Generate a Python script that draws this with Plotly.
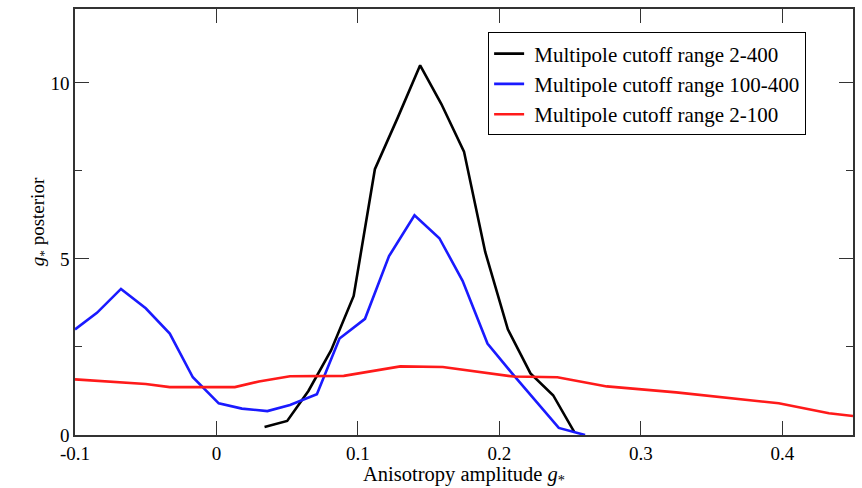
import plotly.graph_objects as go

# Black: Multipole cutoff range 2-400
x_black = [0.034, 0.050, 0.065, 0.081, 0.097, 0.112, 0.128, 0.144, 0.159, 0.175, 0.190, 0.206, 0.222, 0.238, 0.253]
y_black = [0.23, 0.40, 1.25, 2.40, 3.95, 7.55, 9.00, 10.50, 9.40, 8.05, 5.20, 3.00, 1.75, 1.13, 0.08]

# Blue: Multipole cutoff range 100-400
x_blue = [-0.100, -0.0845, -0.0675, -0.050, -0.033, -0.0167, 0.0016, 0.018, 0.036, 0.052, 0.071, 0.087,
          0.105, 0.122, 0.140, 0.1576, 0.174, 0.1916, 0.209, 0.2268, 0.242, 0.2606]
y_blue = [3.00, 3.47, 4.15, 3.60, 2.88, 1.64, 0.90, 0.75, 0.68, 0.85, 1.16, 2.74,
          3.30, 5.08, 6.24, 5.59, 4.38, 2.60, 1.75, 0.90, 0.20, 0.00]

# Red: Multipole cutoff range 2-100
x_red = [-0.100, -0.050, -0.033, 0.013, 0.030, 0.052, 0.090, 0.110, 0.130, 0.160, 0.190, 0.210,
         0.241, 0.276, 0.325, 0.3975, 0.433, 0.450]
y_red = [1.58, 1.45, 1.36, 1.36, 1.52, 1.67, 1.68, 1.82, 1.95, 1.93, 1.78, 1.66,
         1.64, 1.38, 1.21, 0.90, 0.62, 0.54]

names = ["Multipole cutoff range 2-400", "Multipole cutoff range 100-400", "Multipole cutoff range 2-100"]

fig = go.Figure()
fig.add_trace(go.Scatter(x=x_black, y=y_black, mode="lines", name="\u00a0" + names[0],
                         line=dict(color="#000000", width=2.6)))
fig.add_trace(go.Scatter(x=x_blue, y=y_blue, mode="lines", name="\u00a0" + names[1],
                         line=dict(color="#1a1aff", width=2.6)))
fig.add_trace(go.Scatter(x=x_red, y=y_red, mode="lines", name="\u00a0" + names[2],
                         line=dict(color="#ff1a1a", width=2.6)))

font = "Liberation Serif, Times New Roman, serif"
axis_common = dict(showgrid=False, zeroline=False, showline=True, linecolor="#333333", linewidth=1.5,
                   mirror="ticks", ticks="inside", ticklen=14, tickwidth=1.2, tickcolor="#333333",
                   tickfont=dict(family=font, size=19, color="#000000"))

fig.update_layout(
    width=862, height=488,
    margin=dict(l=75, r=9, t=7, b=53),
    paper_bgcolor="white", plot_bgcolor="white",
    font=dict(family=font, color="#000000"),
    showlegend=True,
    legend=dict(x=0.531, y=0.945, xanchor="left", yanchor="top",
                bordercolor="#000000", borderwidth=1, bgcolor="white",
                font=dict(family=font, size=21, color="#000000"),
                tracegroupgap=0, itemwidth=30),
    xaxis=dict(range=[-0.1, 0.45], tickvals=[-0.1, 0, 0.1, 0.2, 0.3, 0.4],
               ticktext=["-0.1", "0", "0.1", "0.2", "0.3", "0.4"],
               title=dict(text="Anisotropy amplitude <i>g</i><sub>*</sub>", font=dict(family=font, size=20.5),
                          standoff=0),
               **axis_common),
    yaxis=dict(range=[0, 12.1], tickvals=[0, 5, 10],
               minor=dict(tickvals=[2.5, 7.5], ticklen=7, ticks="inside", tickcolor="#333333"),
               title=dict(text="<i>g</i><sub>*</sub> posterior", font=dict(family=font, size=19),
                          standoff=1),
               **axis_common),
)

fig.write_html("out.html")
